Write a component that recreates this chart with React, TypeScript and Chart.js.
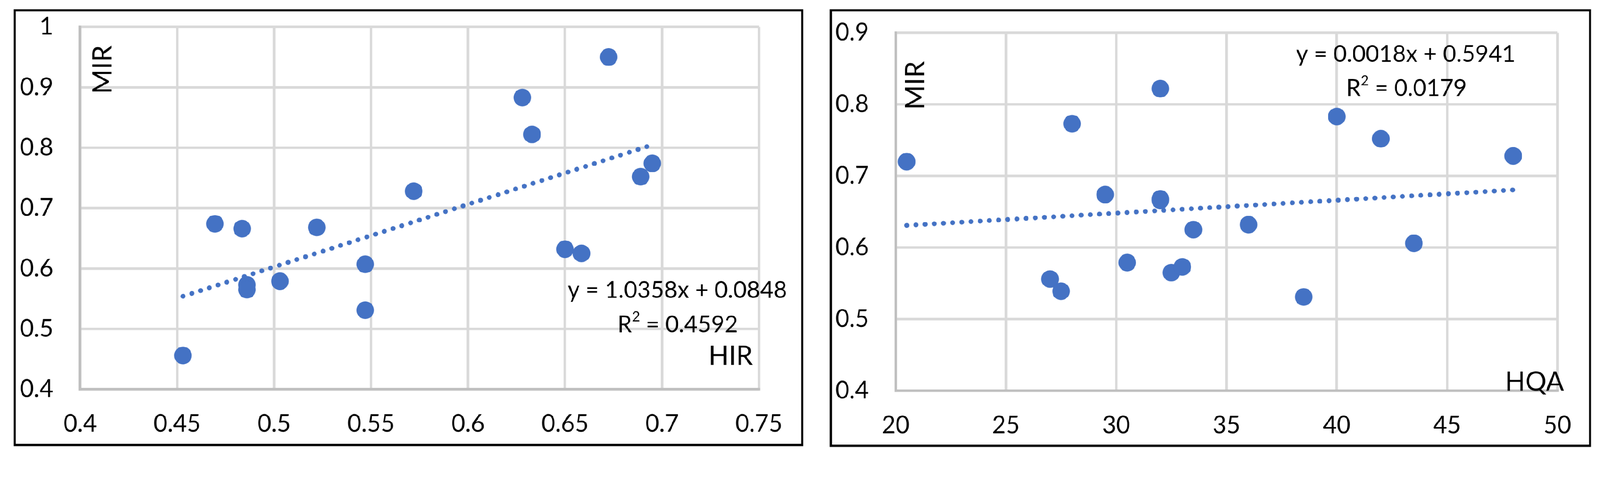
import React, { useEffect, useRef } from "react";
import { Chart, registerables } from "chart.js";

Chart.register(...registerables);

// ---------- Data ----------
const hirValues = [0.453, 0.4695, 0.4835, 0.486, 0.486, 0.503, 0.522, 0.547, 0.547, 0.572, 0.628, 0.633, 0.6725, 0.65, 0.6585, 0.689, 0.695];
const hirMirValues = [0.456, 0.674, 0.666, 0.573, 0.565, 0.579, 0.668, 0.607, 0.531, 0.728, 0.883, 0.822, 0.95, 0.632, 0.625, 0.752, 0.774];

const hqaValues = [20.5, 27, 27.5, 28, 29.5, 30.5, 32, 32, 32, 32.5, 33, 33.5, 36, 38.5, 40, 42, 43.5, 48];
const hqaMirValues = [0.72, 0.556, 0.539, 0.773, 0.674, 0.579, 0.822, 0.668, 0.666, 0.565, 0.573, 0.625, 0.632, 0.531, 0.783, 0.752, 0.606, 0.728];

// trendline coefficients (as printed on the chart)
const hirSlope = 1.0358;
const hirIntercept = 0.0848;
const hirR2 = "0.4592";
const hqaSlope = 0.0018;
const hqaIntercept = 0.5941;
const hqaR2 = "0.0179";

// tick values / labels
const hirXTicks = [0.4, 0.45, 0.5, 0.55, 0.6, 0.65, 0.7, 0.75];
const hirXLabels = ["0.4", "0.45", "0.5", "0.55", "0.6", "0.65", "0.7", "0.75"];
const hirYTicks = [0.4, 0.5, 0.6, 0.7, 0.8, 0.9, 1.0];
const hirYLabels = ["0.4", "0.5", "0.6", "0.7", "0.8", "0.9", "1"];

const hqaXTicks = [20, 25, 30, 35, 40, 45, 50];
const hqaXLabels = ["20", "25", "30", "35", "40", "45", "50"];
const hqaYTicks = [0.4, 0.5, 0.6, 0.7, 0.8, 0.9];
const hqaYLabels = ["0.4", "0.5", "0.6", "0.7", "0.8", "0.9"];

// ---------- Styling ----------
const BLUE = "#4472C4";
const FONT = "Lato";
const PAGE_W = 4352;
const PAGE_H = 1248;

type Pt = { x: number; y: number };

interface PanelSpec {
  left: number;
  top: number;
  width: number;
  height: number;
  xs: number[];
  ys: number[];
  slope: number;
  intercept: number;
  r2: string;
  xTicks: number[];
  xLabels: string[];
  yTicks: number[];
  yLabels: string[];
  xTitle: string;
  yTitle: string;
  pad: { top: number; right: number };
  yAxisWidth: number;
  xAxisHeight: number;
  yTitlePos: [number, number];
  xTitlePos: [number, number];
  eqPos: [number, number];
  r2Pos: [number, number];
}

function fmtCoef(v: number) {
  return v.toFixed(4);
}

function ScatterPanel({ spec, ratio }: { spec: PanelSpec; ratio: number }) {
  const ref = useRef<HTMLCanvasElement | null>(null);
  const border = 6;
  const cw = spec.width - 2 * border;
  const ch = spec.height - 2 * border;

  useEffect(() => {
    if (!ref.current) return;
    const points: Pt[] = spec.xs.map((x, i) => ({ x, y: spec.ys[i] }));
    const xmin = Math.min(...spec.xs);
    const xmax = Math.max(...spec.xs);
    const trend: Pt[] = [
      { x: xmin, y: spec.slope * xmin + spec.intercept },
      { x: xmax, y: spec.slope * xmax + spec.intercept },
    ];

    const textPlugin = {
      id: "annotText",
      afterDraw(chart: any) {
        const ctx: CanvasRenderingContext2D = chart.ctx;
        const a = chart.chartArea;
        ctx.save();
        ctx.fillStyle = "#000";

        ctx.save();
        ctx.translate(a.left + spec.yTitlePos[0], a.top + spec.yTitlePos[1]);
        ctx.rotate(-Math.PI / 2);
        ctx.font = `72px ${FONT}`;
        ctx.textAlign = "center";
        ctx.textBaseline = "middle";
        ctx.fillText(spec.yTitle, 0, 0);
        ctx.restore();

        ctx.font = `72px ${FONT}`;
        ctx.textAlign = "right";
        ctx.textBaseline = "alphabetic";
        ctx.fillText(spec.xTitle, a.right + spec.xTitlePos[0], a.bottom + spec.xTitlePos[1]);

        const eq = `y = ${fmtCoef(spec.slope)}x + ${fmtCoef(spec.intercept)}`;
        ctx.font = `63px ${FONT}`;
        ctx.textAlign = "center";
        ctx.fillText(eq, a.left + spec.eqPos[0], a.top + spec.eqPos[1]);

        ctx.textAlign = "left";
        ctx.font = `63px ${FONT}`;
        const wR = ctx.measureText("R").width;
        const rest = ` = ${spec.r2}`;
        const wRest = ctx.measureText(rest).width;
        ctx.font = `38px ${FONT}`;
        const w2 = ctx.measureText("2").width;
        const total = wR + w2 + wRest;
        const x0 = a.left + spec.r2Pos[0] - total / 2;
        const by = a.top + spec.r2Pos[1];
        ctx.font = `63px ${FONT}`;
        ctx.fillText("R", x0, by);
        ctx.font = `38px ${FONT}`;
        ctx.fillText("2", x0 + wR, by - 29);
        ctx.font = `63px ${FONT}`;
        ctx.fillText(rest, x0 + wR + w2, by);
        ctx.restore();
      },
    };

    const tickFont = { family: FONT, size: 65, lineHeight: 1 };

    const chart = new Chart(ref.current, {
      type: "scatter",
      data: {
        datasets: [
          {
            type: "line",
            data: trend,
            borderColor: BLUE,
            borderWidth: 13,
            borderDash: [0.5, 24.5],
            borderCapStyle: "round",
            pointRadius: 0,
            fill: false,
          } as any,
          {
            type: "scatter",
            data: points,
            pointRadius: 24,
            pointHoverRadius: 24,
            backgroundColor: BLUE,
            borderColor: BLUE,
            borderWidth: 0,
          } as any,
        ],
      },
      options: {
        animation: false,
        responsive: false,
        devicePixelRatio: ratio,
        events: [],
        layout: { padding: { left: 0, top: spec.pad.top, right: spec.pad.right, bottom: 0 } },
        plugins: { legend: { display: false }, tooltip: { enabled: false } },
        scales: {
          x: {
            type: "linear",
            position: "bottom",
            min: spec.xTicks[0],
            max: spec.xTicks[spec.xTicks.length - 1],
            afterBuildTicks: (axis: any) => {
              axis.ticks = spec.xTicks.map((v) => ({ value: v }));
            },
            afterFit: (axis: any) => {
              axis.height = spec.xAxisHeight;
              axis.paddingLeft = 0;
              axis.paddingRight = 0;
              axis.paddingTop = 0;
              axis.paddingBottom = 0;
            },
            ticks: {
              autoSkip: false,
              maxRotation: 0,
              padding: 62,
              color: "#000",
              font: tickFont,
              callback: (_v: any, i: number) => spec.xLabels[i],
            },
            grid: { color: "#d9d9d9", lineWidth: 7, drawTicks: false },
            border: { display: true, color: "#bfbfbf", width: 7 },
          },
          y: {
            type: "linear",
            position: "left",
            min: spec.yTicks[0],
            max: spec.yTicks[spec.yTicks.length - 1],
            afterBuildTicks: (axis: any) => {
              axis.ticks = spec.yTicks.map((v) => ({ value: v }));
            },
            afterFit: (axis: any) => {
              axis.width = spec.yAxisWidth;
              axis.paddingLeft = 0;
              axis.paddingRight = 0;
              axis.paddingTop = 0;
              axis.paddingBottom = 0;
            },
            ticks: {
              autoSkip: false,
              padding: 73,
              color: "#000",
              font: tickFont,
              callback: (_v: any, i: number) => spec.yLabels[i],
            },
            grid: { color: "#d9d9d9", lineWidth: 7, drawTicks: false },
            border: { display: true, color: "#bfbfbf", width: 7 },
          },
        },
      } as any,
      plugins: [textPlugin],
    });
    return () => chart.destroy();
  }, []);

  return (
    <div
      style={{
        position: "absolute",
        left: spec.left,
        top: spec.top,
        width: spec.width,
        height: spec.height,
        border: `${border}px solid #000`,
        boxSizing: "border-box",
        background: "#fff",
      }}
    >
      <canvas ref={ref} width={cw} height={ch} style={{ display: "block", width: cw, height: ch }} />
    </div>
  );
}

const leftSpec: PanelSpec = {
  left: 37,
  top: 25,
  width: 2148,
  height: 1187,
  xs: hirValues,
  ys: hirMirValues,
  slope: hirSlope,
  intercept: hirIntercept,
  r2: hirR2,
  xTicks: hirXTicks,
  xLabels: hirXLabels,
  yTicks: hirYTicks,
  yLabels: hirYLabels,
  xTitle: "HIR",
  yTitle: "MIR",
  pad: { top: 42, right: 115 },
  yAxisWidth: 175,
  xAxisHeight: 149,
  yTitlePos: [62, 116],
  xTitlePos: [-17, -67],
  eqPos: [1624, 736],
  r2Pos: [1625, 829],
};

const rightSpec: PanelSpec = {
  left: 2257,
  top: 25,
  width: 2071,
  height: 1189,
  xs: hqaValues,
  ys: hqaMirValues,
  slope: hqaSlope,
  intercept: hqaIntercept,
  r2: hqaR2,
  xTicks: hqaXTicks,
  xLabels: hqaXLabels,
  yTicks: hqaYTicks,
  yLabels: hqaYLabels,
  xTitle: "HQA",
  yTitle: "MIR",
  pad: { top: 58, right: 87 },
  yAxisWidth: 173,
  xAxisHeight: 147,
  yTitlePos: [54, 143],
  xTitlePos: [18, 0],
  eqPos: [1387, 79],
  r2Pos: [1389, 172],
};

export default function App() {
  const vw = typeof window !== "undefined" ? window.innerWidth : PAGE_W;
  const vh = typeof window !== "undefined" ? window.innerHeight : PAGE_H;
  const dpr = typeof window !== "undefined" ? window.devicePixelRatio || 1 : 1;
  const k = Math.min(vw / PAGE_W, vh / PAGE_H) || 1;
  const ratio = Math.max(k * dpr, 0.5);
  return (
    <div
      style={{
        position: "fixed",
        left: 0,
        top: 0,
        width: PAGE_W,
        height: PAGE_H,
        background: "#fff",
        overflow: "hidden",
        transform: `scale(${k})`,
        transformOrigin: "0 0",
      }}
    >
      <ScatterPanel spec={leftSpec} ratio={ratio} />
      <ScatterPanel spec={rightSpec} ratio={ratio} />
    </div>
  );
}
